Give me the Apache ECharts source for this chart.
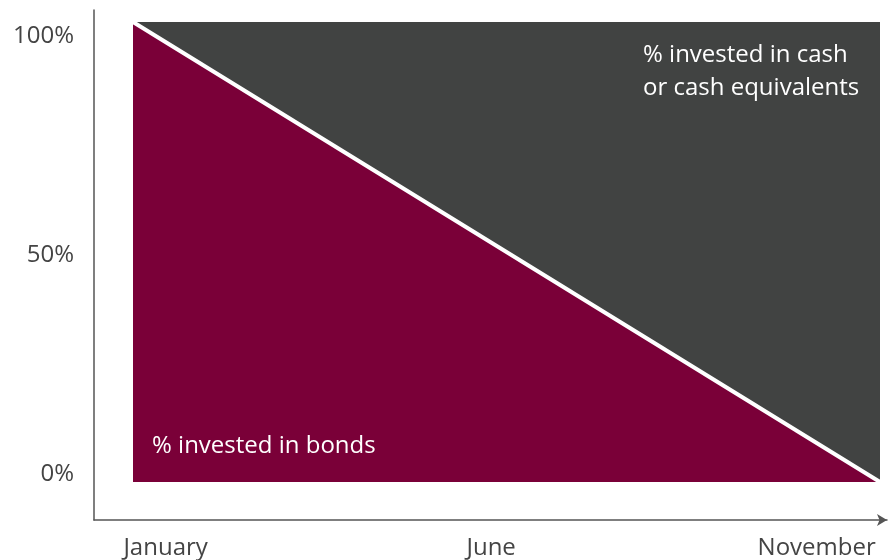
<!DOCTYPE html>
<html><head><meta charset="utf-8">
<script src="https://cdn.jsdelivr.net/npm/echarts@6/dist/echarts.min.js"></script>
<style>html,body{margin:0;padding:0;background:#fff}#c{width:888px;height:560px}</style>
</head><body><div id="c"></div>
<script>
// months as numbers (January = 1 ... November = 11)
const months = [1, 11];
const bondsPct = [100, 0];
const cashPct = [0, 100];
const xTickValues = [1, 6, 11];
const xTickLabels = {1: 'January', 6: 'June', 11: 'November'};
const yTickValues = [0, 50, 100];
const bondsLabel = '% invested in bonds';
const cashLabel = '% invested in cash\nor cash equivalents';

const chart = echarts.init(document.getElementById('c'));
const font = '"Open Sans", Lato, sans-serif';
chart.setOption({
  animation: false,
  grid: [
    {left: 133, right: 8, top: 22, bottom: 78},
    {left: 94, right: 1, top: 10, bottom: 39}
  ],
  xAxis: [
    {gridIndex: 0, type: 'value', min: 1, max: 11, show: false},
    {gridIndex: 1, type: 'value', min: -0.10, max: 12.08, splitLine: {show: false},
     axisLine: {onZero: false, lineStyle: {color: '#555', width: 1.5}, symbol: ['none', 'arrow'], symbolSize: [9, 10]},
     axisTick: {show: false},
     axisLabel: {customValues: xTickValues, formatter: v => xTickLabels[v] || '', color: '#444',
                 fontSize: 24, fontFamily: font, margin: 16}}
  ],
  yAxis: [
    {gridIndex: 0, type: 'value', min: 0, max: 100, show: false},
    {gridIndex: 1, type: 'value', min: -10.5, max: 105.9, splitLine: {show: false},
     axisLine: {show: true, onZero: false, lineStyle: {color: '#555', width: 1.5}},
     axisTick: {show: false},
     axisLabel: {customValues: yTickValues, formatter: v => v + '%', color: '#444',
                 fontSize: 24, fontFamily: font, margin: 20}}
  ],
  series: [
    {type: 'line', xAxisIndex: 0, yAxisIndex: 0, symbol: 'none',
     data: months.map((m, i) => [m, bondsPct[i] + cashPct[i]]),
     lineStyle: {width: 0}, areaStyle: {color: '#414342', opacity: 1}, z: 2},
    {type: 'line', xAxisIndex: 0, yAxisIndex: 0, symbol: 'none',
     data: months.map((m, i) => [m, bondsPct[i]]),
     lineStyle: {color: '#fff', width: 4}, areaStyle: {color: '#7a0038', opacity: 1}, z: 3}
  ],
  graphic: [
    {type: 'text', left: 152, top: 434, z: 10,
     style: {text: bondsLabel, fill: '#fff', font: '24px ' + font}},
    {type: 'text', left: 643, top: 39, z: 10,
     style: {text: cashLabel, fill: '#fff', font: '24px ' + font, lineHeight: 33}}
  ]
});
</script></body></html>
